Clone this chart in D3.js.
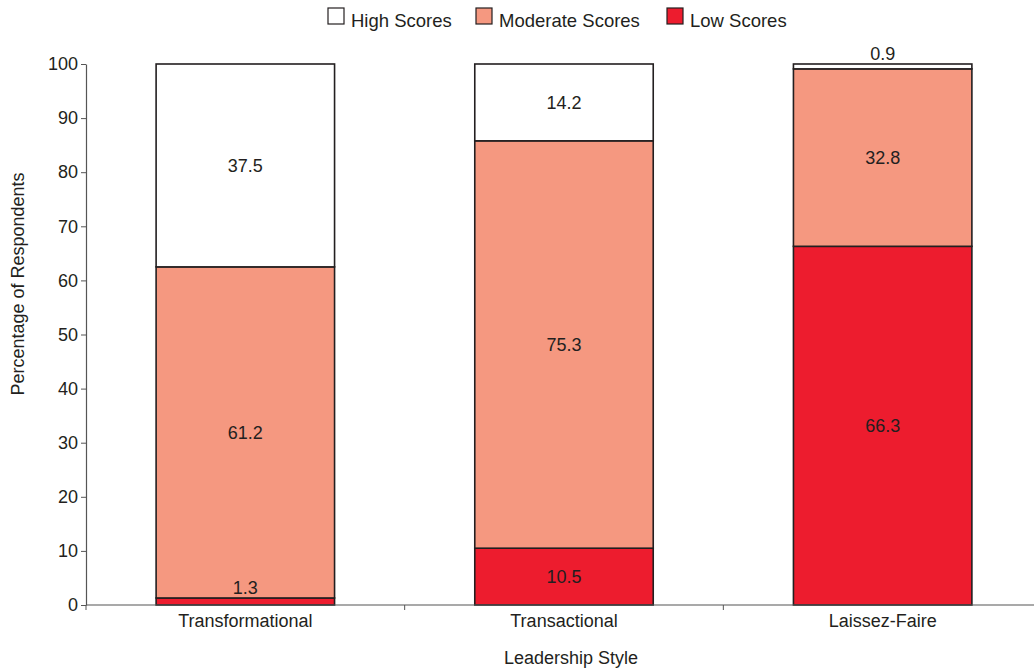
<!DOCTYPE html>
<html>
<head>
<meta charset="utf-8">
<script src="https://cdn.jsdelivr.net/npm/d3@7/dist/d3.min.js"></script>
<style>
  html, body { margin: 0; padding: 0; background: #fff; }
  svg { display: block; font-family: "Liberation Sans", Arial, sans-serif; }
</style>
</head>
<body>
<svg id="chart" width="1034" height="670"></svg>
<script>
// Leadership styles on the x axis
const categories = ["Transformational", "Transactional", "Laissez-Faire"];
// Score groups, stacked from the bottom up
const seriesNames = ["Low Scores", "Moderate Scores", "High Scores"];
const lowScores = [1.3, 10.5, 66.3];
const moderateScores = [61.2, 75.3, 32.8];
const highScores = [37.5, 14.2, 0.9];
const yTicks = [0, 10, 20, 30, 40, 50, 60, 70, 80, 90, 100];
const legendOrder = ["High Scores", "Moderate Scores", "Low Scores"];

const colors = {
  "High Scores": "#ffffff",
  "Moderate Scores": "#f59880",
  "Low Scores": "#ed1c2e"
};

const FS = 18;
const ink = "#231f20";

const rows = categories.map((c, i) => ({
  category: c,
  "Low Scores": lowScores[i],
  "Moderate Scores": moderateScores[i],
  "High Scores": highScores[i]
}));

const svg = d3.select("#chart");
const margin = { left: 86, right: -8, top: 64, bottom: 65 };
const W = 1034, H = 670;

const x = d3.scaleBand()
  .domain(categories)
  .range([margin.left, W - margin.right])
  .paddingInner(0.44)
  .paddingOuter(0.22);

const y = d3.scaleLinear()
  .domain([0, 100])
  .range([H - margin.bottom, margin.top]);

const stack = d3.stack().keys(seriesNames);
const layers = stack(rows);

// Bars
const g = svg.append("g");
layers.forEach(layer => {
  const key = layer.key;
  layer.forEach(seg => {
    g.append("rect")
      .attr("x", x(seg.data.category))
      .attr("width", x.bandwidth())
      .attr("y", y(seg[1]))
      .attr("height", y(seg[0]) - y(seg[1]))
      .attr("fill", colors[key])
      .attr("stroke", ink)
      .attr("stroke-width", 1.6);
  });
});

// Segment value labels (thin segments get their label just above)
layers.forEach(layer => {
  layer.forEach(seg => {
    const v = seg.data[layer.key];
    const cx = x(seg.data.category) + x.bandwidth() / 2;
    const small = v < 5;
    const ty = small ? y(seg[1]) - 4 : (y(seg[0]) + y(seg[1])) / 2 + 6.5;
    g.append("text")
      .attr("x", cx)
      .attr("y", ty)
      .attr("text-anchor", "middle")
      .attr("font-size", FS)
      .attr("fill", ink)
      .text(v.toFixed(1));
  });
});

// Y axis
const yAxis = d3.axisLeft(y).tickValues(yTicks).tickSize(5).tickSizeOuter(0);
const ya = svg.append("g")
  .attr("transform", `translate(${margin.left},0)`)
  .call(yAxis);
ya.select(".domain").attr("stroke", "#555").attr("stroke-width", 1.2);
ya.selectAll(".tick line").attr("stroke", "#555");
ya.selectAll(".tick text")
  .attr("font-size", FS)
  .attr("fill", ink)
  .attr("font-family", "Liberation Sans, Arial, sans-serif")
  .attr("x", -8);

// X axis: ticks sit on category boundaries
const boundaries = categories.map(c => x(c) - x.step() * x.paddingInner() / 2);
const xa = svg.append("g");
xa.append("line")
  .attr("x1", margin.left).attr("x2", W)
  .attr("y1", y(0)).attr("y2", y(0))
  .attr("stroke", "#555").attr("stroke-width", 1.2);
boundaries.forEach(bx => {
  xa.append("line")
    .attr("x1", bx).attr("x2", bx)
    .attr("y1", y(0)).attr("y2", y(0) + 5)
    .attr("stroke", "#555");
});
categories.forEach(c => {
  xa.append("text")
    .attr("x", x(c) + x.bandwidth() / 2)
    .attr("y", y(0) + 22)
    .attr("text-anchor", "middle")
    .attr("font-size", FS)
    .attr("fill", ink)
    .text(c);
});

// Axis titles
svg.append("text")
  .attr("x", 571).attr("y", 664)
  .attr("text-anchor", "middle")
  .attr("font-size", FS)
  .attr("fill", ink)
  .text("Leadership Style");

svg.append("text")
  .attr("transform", "translate(24,284) rotate(-90)")
  .attr("text-anchor", "middle")
  .attr("font-size", FS)
  .attr("fill", ink)
  .text("Percentage of Respondents");

// Legend
const legendX = [328, 476, 667];
legendOrder.forEach((name, i) => {
  const lg = svg.append("g").attr("transform", `translate(${legendX[i]},8)`);
  lg.append("rect")
    .attr("width", 16).attr("height", 16)
    .attr("fill", colors[name])
    .attr("stroke", ink).attr("stroke-width", 1.2);
  lg.append("text")
    .attr("x", 23).attr("y", 19)
    .attr("font-size", 18.5)
    .attr("fill", ink)
    .text(name);
});
</script>
</body>
</html>
